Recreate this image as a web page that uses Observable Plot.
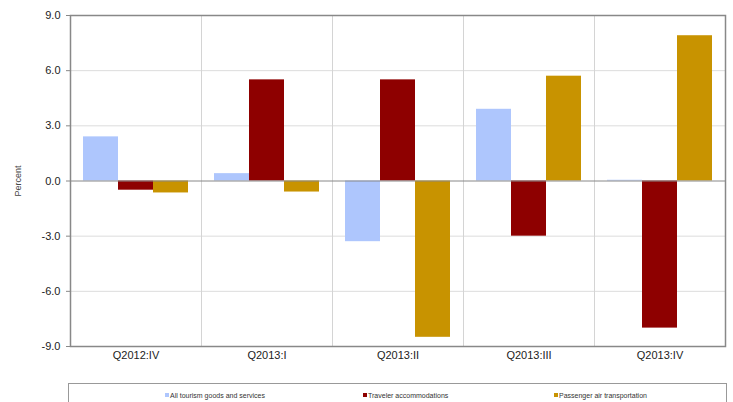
<!DOCTYPE html>
<html>
<head>
<meta charset="utf-8">
<script src="https://cdn.jsdelivr.net/npm/d3@7"></script>
<script src="https://cdn.jsdelivr.net/npm/@observablehq/plot@0.6"></script>
<style>
  body { margin: 0; background: #fff; font-family: "Liberation Sans", Arial, sans-serif; }
  #chart { position: relative; width: 733px; }
  #legend { position: relative; margin-left: 68px; margin-top: 11px; width: 659px; height: 30px; border: 1px solid #999; border-bottom: none; box-sizing: border-box; font-size: 7px; color: #333; }
  .item { position: absolute; top: 8px; white-space: nowrap; }
  .sw { display: inline-block; width: 4px; height: 4px; margin-right: 1px; vertical-align: 1px; }
</style>
</head>
<body>
<div id="chart"></div>
<script>
const quarters = ["Q2012:IV", "Q2013:I", "Q2013:II", "Q2013:III", "Q2013:IV"];
const series = ["All tourism goods and services", "Traveler accommodations", "Passenger air transportation"];
const colors = ["#aec6fd", "#8e0000", "#c89300"];
const allTourism = [2.4, 0.4, -3.3, 3.9, 0.04];
const accommodations = [-0.5, 5.5, 5.5, -3.0, -8.0];
const airTransport = [-0.65, -0.6, -8.5, 5.7, 7.9];
const yTicks = [-9, -6, -3, 0, 3, 6, 9];

const values = [allTourism, accommodations, airTransport];
const data = [];
quarters.forEach((q, i) => series.forEach((s, j) => data.push({q, series: s, value: values[j][i]})));

const plot = Plot.plot({
  width: 733,
  height: 372,
  marginLeft: 69,
  marginRight: 8,
  marginTop: 15,
  marginBottom: 26,
  style: {fontFamily: "'Liberation Sans', Arial, sans-serif", fontSize: "11px", color: "#222"},
  fx: {domain: quarters, padding: 0, label: null, axis: null},
  x: {domain: series, paddingInner: 0, paddingOuter: 0.34, axis: null},
  y: {domain: [-9, 9], label: null},
  color: {domain: series, range: colors},
  marks: [
    Plot.gridY([-6, -3, 3, 6], {stroke: "#dcdcdc", strokeOpacity: 1}),
    Plot.frame({stroke: "#d4d4d4"}),
    Plot.barY(data, {fx: "q", x: "series", y: "value", fill: "series", inset: 0}),
    Plot.ruleY([0], {stroke: "#888"}),
    Plot.frame({stroke: "#888", strokeWidth: 1.5, facet: "super"}),
    Plot.axisY(yTicks, {tickFormat: d => d3.format(".1f")(d).replace("\u2212", "-"), tickSize: 4, tickPadding: 6, stroke: "#888", fontSize: 11, label: null}),
    Plot.axisY({ticks: [], tickSize: 0, label: "Percent", labelAnchor: "center", labelArrow: "none", labelOffset: 56, fontSize: 9, color: "#444"}),
    Plot.axisFx({anchor: "bottom", tickSize: 0, tickPadding: 5, fontSize: 11, label: null})
  ]
});
document.getElementById("chart").appendChild(plot);

const legend = document.createElement("div");
legend.id = "legend";
const lefts = [96, 294, 485];
series.forEach((s, j) => {
  const it = document.createElement("div");
  it.className = "item";
  it.style.left = lefts[j] + "px";
  it.innerHTML = `<span class="sw" style="background:${colors[j]}"></span>${s}`;
  legend.appendChild(it);
});
document.body.appendChild(legend);
</script>
</body>
</html>
